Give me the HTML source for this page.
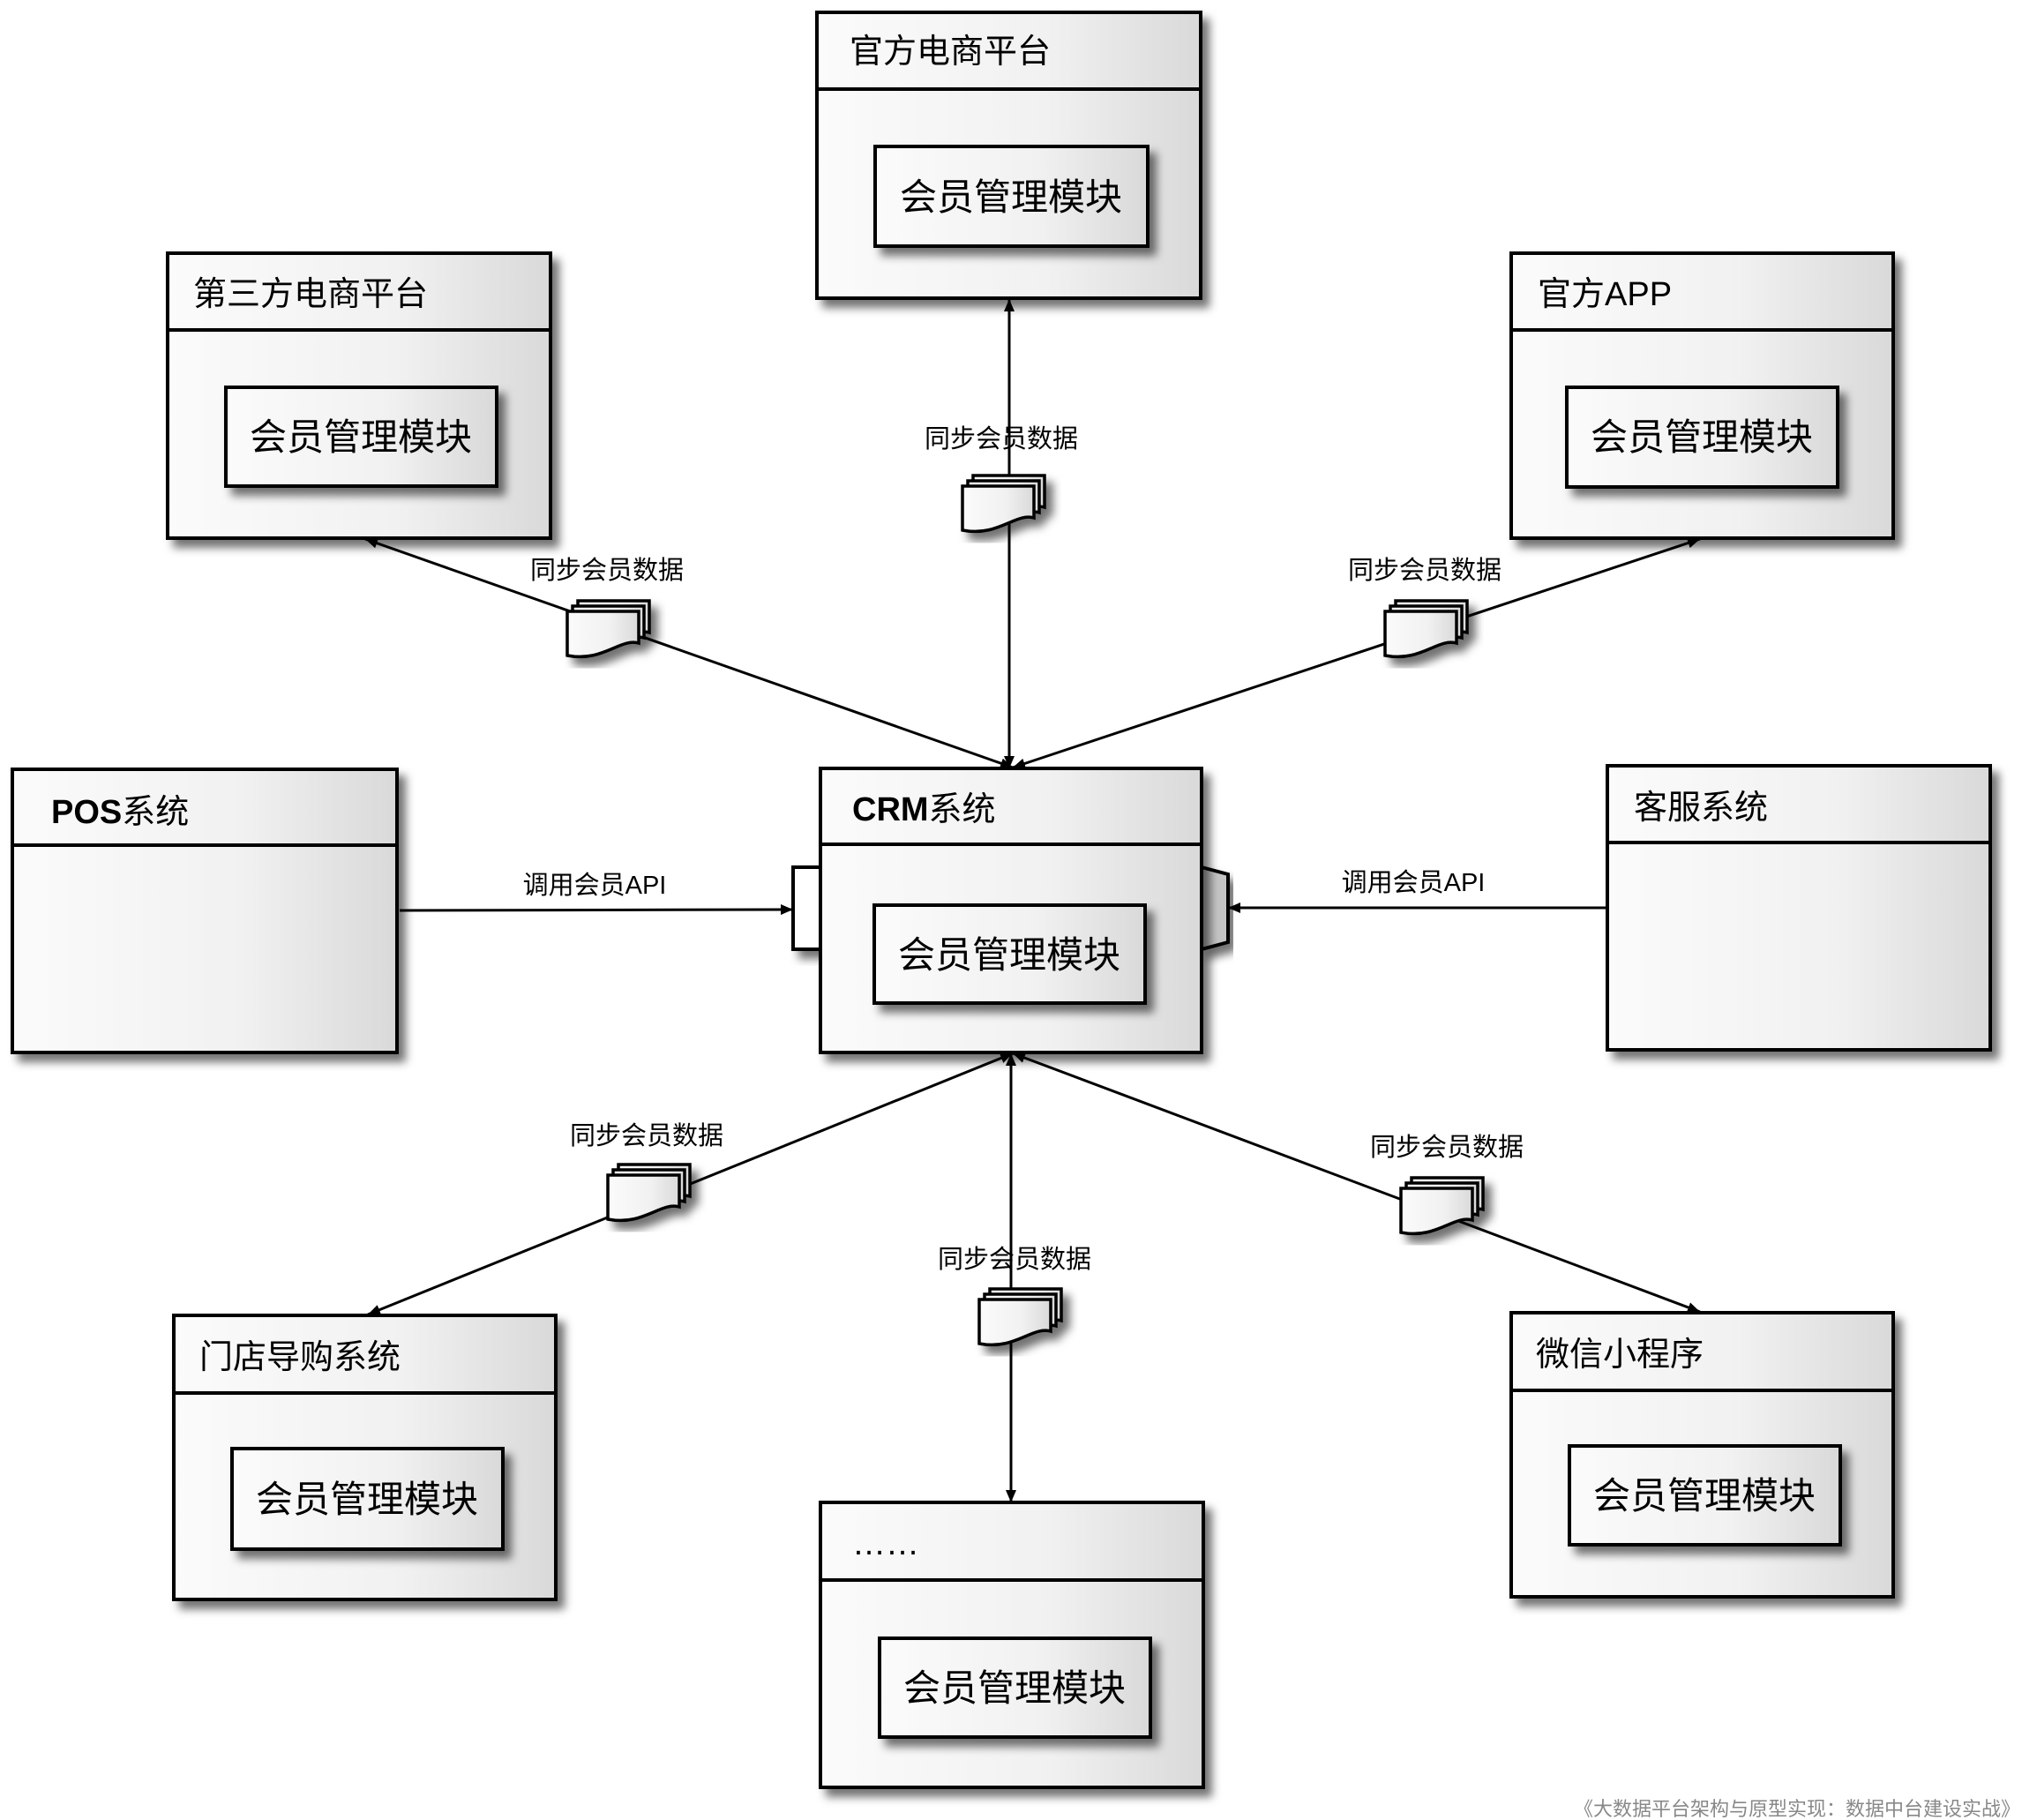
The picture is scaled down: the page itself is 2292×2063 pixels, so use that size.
<!DOCTYPE html>
<html><head><meta charset="utf-8">
<style>
html,body{margin:0;padding:0;background:#fff;}
svg{display:block;}
text{font-family:"Liberation Sans","Noto Sans CJK SC",sans-serif;fill:#000;}
.cond{font-family:"Liberation Sans Narrow","Liberation Sans","Noto Sans CJK SC",sans-serif;font-weight:bold;}
</style></head>
<body>
<svg width="2292" height="2063" viewBox="0 0 2292 2063" xmlns="http://www.w3.org/2000/svg">
<defs>
<linearGradient id="g" x1="0" x2="1" y1="0" y2="0">
<stop offset="0" stop-color="#fbfbfb"/><stop offset="0.6" stop-color="#f1f1f1"/><stop offset="1" stop-color="#d9d9d9"/>
</linearGradient>
<filter id="sh" x="-10%" y="-10%" width="130%" height="130%">
<feDropShadow dx="8" dy="9" stdDeviation="5" flood-color="#000" flood-opacity="0.55"/>
</filter>
<marker id="ar" viewBox="0 0 14 12" refX="14" refY="6" markerWidth="14" markerHeight="12" markerUnits="userSpaceOnUse" orient="auto-start-reverse">
<path d="M0,0 L14,6 L0,12 Z" fill="#000"/>
</marker>
<g id="doc">
<path d="M0,0 H81 V36 C60,30 40,58 0,50 Z" fill="url(#g)" stroke="#000" stroke-width="3.5"/>
</g>
<g id="docs" filter="url(#sh)">
<use href="#doc" x="12" y="-12"/>
<use href="#doc" x="6" y="-6"/>
<use href="#doc" x="0" y="0"/>
</g>
</defs>

<g stroke="#000" stroke-width="3" fill="none">
<line x1="1144" y1="871" x2="1144" y2="339" marker-start="url(#ar)" marker-end="url(#ar)"/>
<line x1="1148" y1="870" x2="414" y2="611" marker-start="url(#ar)" marker-end="url(#ar)"/>
<line x1="1148" y1="870" x2="1927" y2="611" marker-start="url(#ar)" marker-end="url(#ar)"/>
<line x1="453" y1="1032" x2="899" y2="1031" marker-end="url(#ar)"/>
<line x1="1822" y1="1029" x2="1392" y2="1029" marker-end="url(#ar)"/>
<line x1="1148" y1="1194" x2="417" y2="1490" marker-start="url(#ar)" marker-end="url(#ar)"/>
<line x1="1146" y1="1194" x2="1146" y2="1703" marker-start="url(#ar)" marker-end="url(#ar)"/>
<line x1="1148" y1="1194" x2="1927" y2="1487" marker-start="url(#ar)" marker-end="url(#ar)"/>
</g>

<g stroke="#000" stroke-width="4">
<rect x="926" y="14" width="435" height="324" fill="url(#g)" filter="url(#sh)"/>
<line x1="926" y1="101" x2="1361" y2="101"/>
<rect x="992" y="166" width="309" height="113" fill="url(#g)" filter="url(#sh)"/>
<rect x="190" y="287" width="434" height="323" fill="url(#g)" filter="url(#sh)"/>
<line x1="190" y1="374" x2="624" y2="374"/>
<rect x="256" y="439" width="307" height="112" fill="url(#g)" filter="url(#sh)"/>
<rect x="1713" y="287" width="433" height="323" fill="url(#g)" filter="url(#sh)"/>
<line x1="1713" y1="374" x2="2146" y2="374"/>
<rect x="1776" y="439" width="307" height="113" fill="url(#g)" filter="url(#sh)"/>
<rect x="14" y="872" width="436" height="321" fill="url(#g)" filter="url(#sh)"/>
<line x1="14" y1="958" x2="450" y2="958"/>
<rect x="899" y="983" width="31" height="93" fill="#fff" filter="url(#sh)"/>
<path d="M1362,983 L1392,991 L1392,1068 L1362,1076 Z" fill="#c4c4c4" filter="url(#sh)"/>
<rect x="930" y="871" width="432" height="322" fill="url(#g)" filter="url(#sh)"/>
<line x1="930" y1="957" x2="1362" y2="957"/>
<rect x="991" y="1026" width="307" height="111" fill="url(#g)" filter="url(#sh)"/>
<rect x="1822" y="868" width="434" height="322" fill="url(#g)" filter="url(#sh)"/>
<line x1="1822" y1="955" x2="2256" y2="955"/>
<rect x="197" y="1491" width="433" height="322" fill="url(#g)" filter="url(#sh)"/>
<line x1="197" y1="1579" x2="630" y2="1579"/>
<rect x="263" y="1642" width="307" height="114" fill="url(#g)" filter="url(#sh)"/>
<rect x="930" y="1703" width="434" height="323" fill="url(#g)" filter="url(#sh)"/>
<line x1="930" y1="1791" x2="1364" y2="1791"/>
<rect x="997" y="1857" width="307" height="112" fill="url(#g)" filter="url(#sh)"/>
<rect x="1713" y="1488" width="433" height="322" fill="url(#g)" filter="url(#sh)"/>
<line x1="1713" y1="1576" x2="2146" y2="1576"/>
<rect x="1779" y="1639" width="307" height="112" fill="url(#g)" filter="url(#sh)"/>
</g>

<use href="#docs" x="1091" y="551"/>
<use href="#docs" x="643" y="693"/>
<use href="#docs" x="1570" y="693"/>
<use href="#docs" x="689" y="1332"/>
<use href="#docs" x="1110" y="1473"/>
<use href="#docs" x="1588" y="1347"/>

<g font-size="38">
<text x="963" y="71">官方电商平台</text>
<text x="219" y="346">第三方电商平台</text>
<text x="1743" y="346">官方APP</text>
<text x="58" y="933"><tspan class="cond">POS</tspan>系统</text>
<text x="966" y="930"><tspan class="cond">CRM</tspan>系统</text>
<text x="1852" y="928">客服系统</text>
<text x="226" y="1551">门店导购系统</text>
<text x="1741" y="1548">微信小程序</text>
<text x="966" y="1762">……</text>
</g>

<g font-size="42" text-anchor="middle">
<text x="1146" y="238">会员管理模块</text>
<text x="409" y="510">会员管理模块</text>
<text x="1929" y="510">会员管理模块</text>
<text x="1144" y="1097">会员管理模块</text>
<text x="416" y="1714">会员管理模块</text>
<text x="1150" y="1928">会员管理模块</text>
<text x="1932" y="1710">会员管理模块</text>
</g>

<g font-size="29" text-anchor="middle">
<text x="1135" y="507">同步会员数据</text>
<text x="688" y="656">同步会员数据</text>
<text x="1615" y="656">同步会员数据</text>
<text x="674" y="1013">调用会员API</text>
<text x="1602" y="1010">调用会员API</text>
<text x="733" y="1297">同步会员数据</text>
<text x="1150" y="1437">同步会员数据</text>
<text x="1640" y="1310">同步会员数据</text>
</g>

<text x="2290" y="2058" font-size="22" text-anchor="end" style="fill:#888">《大数据平台架构与原型实现：数据中台建设实战》</text>
</svg>
</body></html>
